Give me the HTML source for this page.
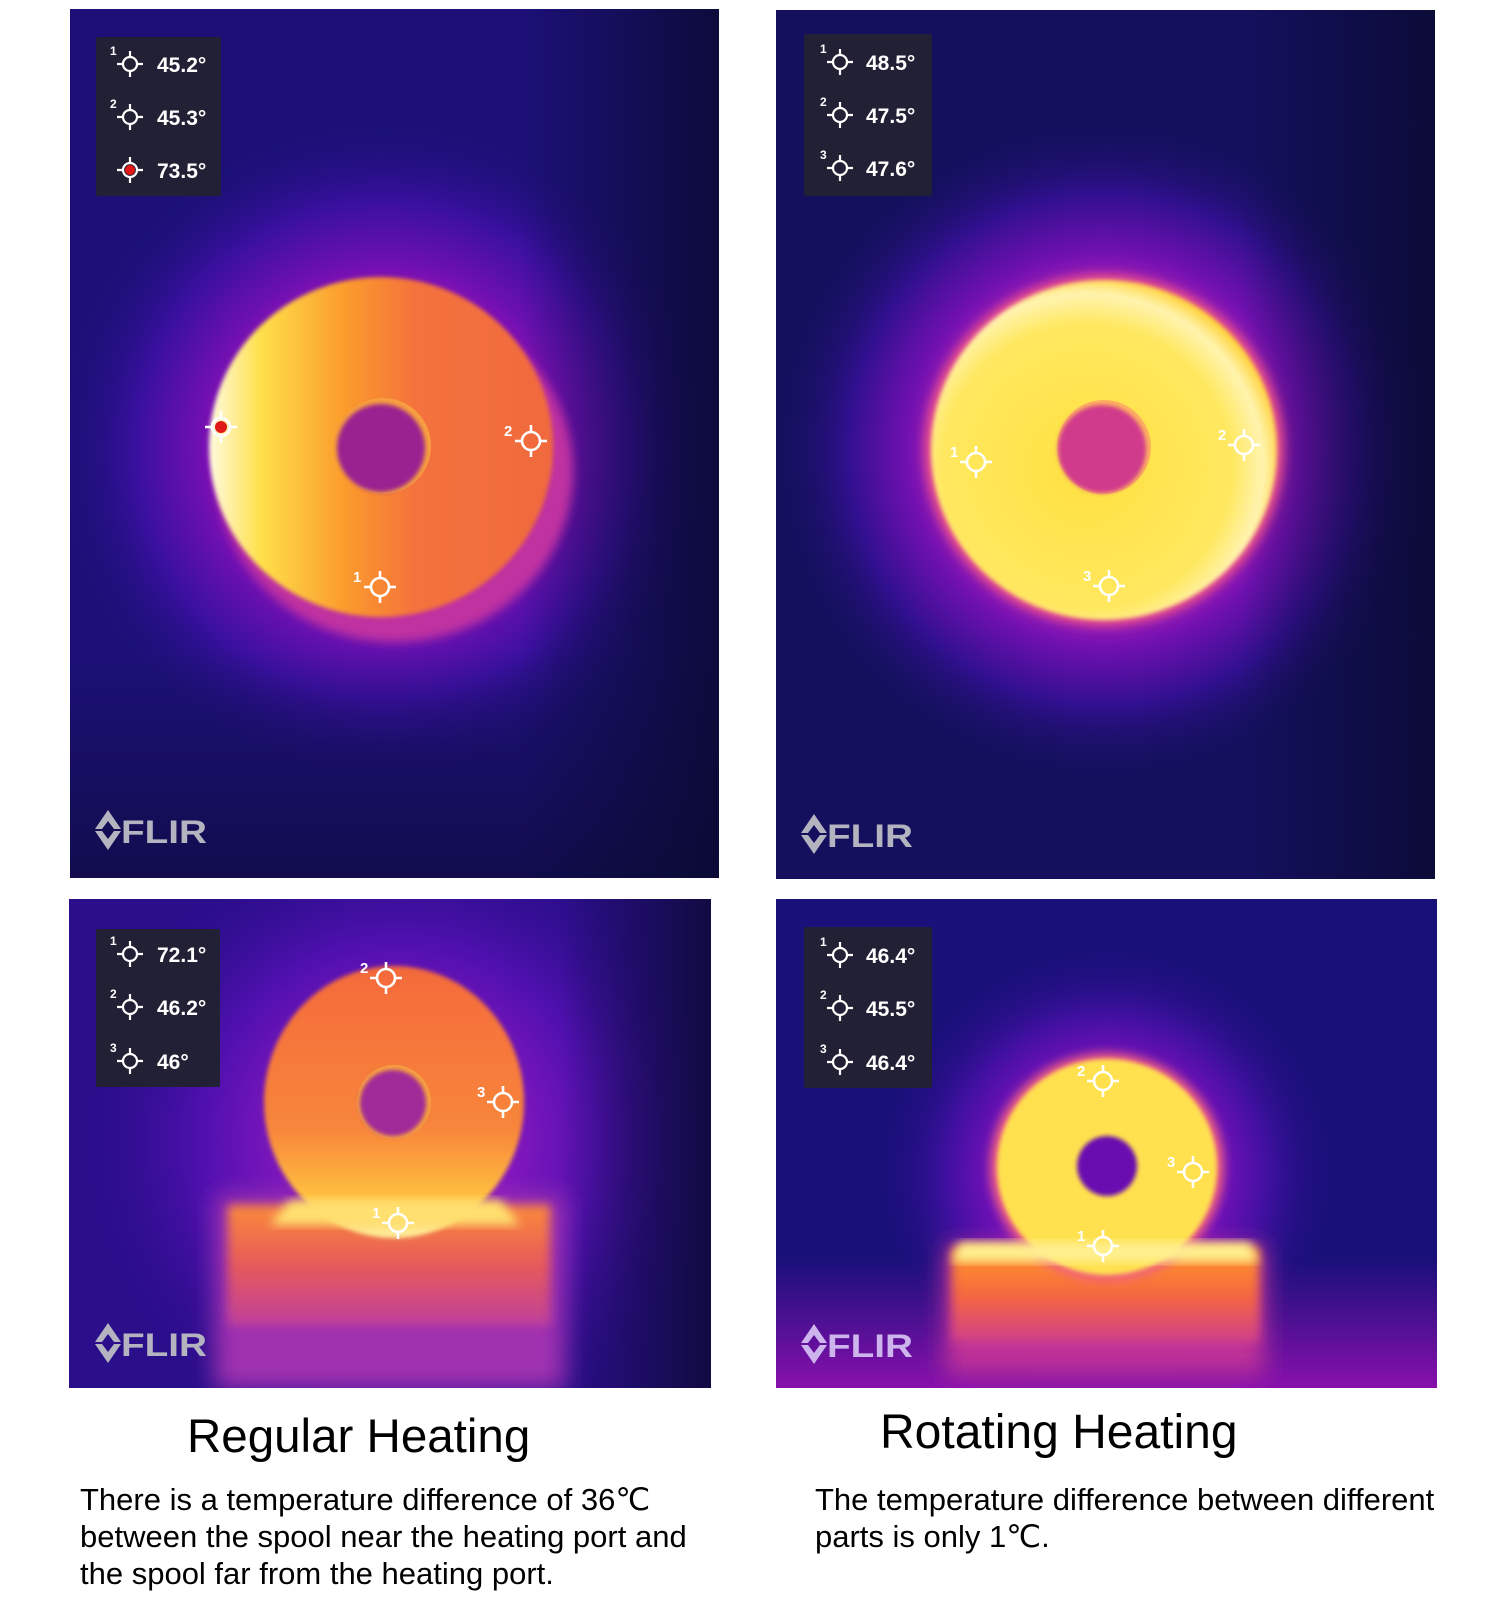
<!DOCTYPE html>
<html><head><meta charset="utf-8"><style>
html,body{margin:0;padding:0;background:#fff;}
body{width:1500px;height:1609px;position:relative;overflow:hidden;font-family:"Liberation Sans",sans-serif;}
.t{position:absolute;color:#000;white-space:nowrap;}
</style></head><body>
<svg width="1500" height="1609" style="position:absolute;left:0;top:0">
<defs>
<filter id="b6" x="-20%" y="-20%" width="140%" height="140%"><feGaussianBlur stdDeviation="5"/></filter>
<filter id="b12" x="-30%" y="-30%" width="160%" height="160%"><feGaussianBlur stdDeviation="12"/></filter>
<filter id="b2"><feGaussianBlur stdDeviation="2"/></filter>
<radialGradient id="bgTL" gradientUnits="userSpaceOnUse" cx="384" cy="450" r="330">
<stop offset="0.45" stop-color="#9a10b8"/><stop offset="0.58" stop-color="#6a10b0"/><stop offset="0.75" stop-color="#3a10a0"/><stop offset="1" stop-color="#1c1078" stop-opacity="0"/></radialGradient>
<radialGradient id="bgTR" gradientUnits="userSpaceOnUse" cx="1104" cy="450" r="330">
<stop offset="0.48" stop-color="#b020b8"/><stop offset="0.6" stop-color="#7010b0"/><stop offset="0.78" stop-color="#30108e"/><stop offset="1" stop-color="#14105e" stop-opacity="0"/></radialGradient>
<radialGradient id="bgBL" gradientUnits="userSpaceOnUse" cx="400" cy="1140" r="330">
<stop offset="0.3" stop-color="#8a18c0"/><stop offset="0.6" stop-color="#5010b0"/><stop offset="1" stop-color="#2a0e8a" stop-opacity="0"/></radialGradient>
<radialGradient id="bgBR" gradientUnits="userSpaceOnUse" cx="1107" cy="1175" r="230">
<stop offset="0.45" stop-color="#8010c0"/><stop offset="0.7" stop-color="#4010a0"/><stop offset="1" stop-color="#1a107a" stop-opacity="0"/></radialGradient>
<linearGradient id="darkR" x1="0" x2="1"><stop offset="0" stop-color="#0a0a30" stop-opacity="0"/><stop offset="1" stop-color="#0a0a30" stop-opacity="0.85"/></linearGradient>
<linearGradient id="darkB" x1="0" x2="0" y1="0" y2="1"><stop offset="0" stop-color="#0a0a30" stop-opacity="0"/><stop offset="1" stop-color="#0a0a30" stop-opacity="0.6"/></linearGradient>
<linearGradient id="purB" x1="0" x2="0" y1="0" y2="1"><stop offset="0" stop-color="#8a10b0" stop-opacity="0"/><stop offset="1" stop-color="#9010b0" stop-opacity="0.95"/></linearGradient>
<linearGradient id="gTL" x1="0" x2="1" y1="0" y2="0">
<stop offset="0" stop-color="#fffbe0"/><stop offset="0.15" stop-color="#ffe04a"/><stop offset="0.4" stop-color="#fb9a2c"/><stop offset="0.6" stop-color="#f4723c"/><stop offset="1" stop-color="#f06a3c"/></linearGradient>
<radialGradient id="gTR" cx="0.45" cy="0.55" r="0.6">
<stop offset="0" stop-color="#ffe040"/><stop offset="0.7" stop-color="#ffe860"/><stop offset="0.85" stop-color="#fff4b0"/><stop offset="0.95" stop-color="#ffd030"/><stop offset="1" stop-color="#ff8a20"/></radialGradient>
<linearGradient id="gBL" x1="0" x2="0" y1="0" y2="1">
<stop offset="0" stop-color="#f46a3a"/><stop offset="0.6" stop-color="#f8863a"/><stop offset="0.85" stop-color="#ffc040"/><stop offset="1" stop-color="#fff0a0"/></linearGradient>
<linearGradient id="gBase" x1="0" x2="0" y1="0" y2="1">
<stop offset="0" stop-color="#fb8a3a"/><stop offset="0.5" stop-color="#e65a5a"/><stop offset="1" stop-color="#c0409a"/></linearGradient>
<linearGradient id="gBase2" x1="0" x2="0" y1="0" y2="1">
<stop offset="0" stop-color="#ff9a2a"/><stop offset="0.5" stop-color="#f6683e"/><stop offset="1" stop-color="#d0408a"/></linearGradient>
<clipPath id="c1"><rect x="70" y="9" width="649" height="869"/></clipPath>
<clipPath id="c2"><rect x="776" y="10" width="659" height="869"/></clipPath>
<clipPath id="c3"><rect x="69" y="899" width="642" height="489"/></clipPath>
<clipPath id="c4"><rect x="776" y="899" width="661" height="489"/></clipPath>
<g id="ch"><circle cx="0" cy="0" r="9" fill="none" stroke="#fff" stroke-width="2.6"/><path d="M-16 0H-9M9 0H16M0 -16V-9M0 9V16" stroke="#fff" stroke-width="2.6"/></g>
<g id="chs"><circle cx="0" cy="0" r="7" fill="none" stroke="#fff" stroke-width="2.2"/><path d="M-13 0H-7M7 0H13M0 -13V-7M0 7V13" stroke="#fff" stroke-width="2.2"/></g>
<g id="logo"><path d="M0 19 L13 0 L26 19 L19 19 L13 11 L7 19Z M0 21 L13 40 L26 21 L19 21 L13 29 L7 21Z"/><text x="26" y="33" font-size="32" font-weight="bold" textLength="86" lengthAdjust="spacingAndGlyphs">FLIR</text></g>
</defs>

<g clip-path="url(#c1)">
<rect x="70" y="9" width="649" height="869" fill="#1c1078"/>
<rect x="70" y="9" width="649" height="869" fill="url(#bgTL)"/>
<rect x="520" y="9" width="200" height="869" fill="url(#darkR)"/>
<rect x="70" y="650" width="649" height="230" fill="url(#darkB)"/>
<ellipse cx="395" cy="472" rx="178" ry="170" fill="#c030a0" filter="url(#b6)"/>
<ellipse cx="381" cy="447" rx="172" ry="170" fill="url(#gTL)" filter="url(#b2)"/>
<circle cx="383" cy="446" r="48" fill="#f8a040"/>
<circle cx="381" cy="448" r="44" fill="#9a2090" filter="url(#b2)"/>
</g>
<g clip-path="url(#c2)">
<rect x="776" y="10" width="659" height="869" fill="#14105e"/>
<rect x="776" y="10" width="659" height="869" fill="url(#bgTR)"/>
<rect x="1240" y="10" width="200" height="869" fill="url(#darkR)"/>
<ellipse cx="1104" cy="450" rx="180" ry="176" fill="#e8508a" filter="url(#b6)"/>
<ellipse cx="1104" cy="450" rx="173" ry="170" fill="url(#gTR)" filter="url(#b2)"/>
<circle cx="1104" cy="447" r="47" fill="#ffb060"/>
<circle cx="1102" cy="449" r="44" fill="#d03a8c" filter="url(#b2)"/>
</g>
<g clip-path="url(#c3)">
<rect x="69" y="899" width="642" height="489" fill="#2a0e8a"/>
<rect x="69" y="899" width="642" height="489" fill="url(#bgBL)"/>
<rect x="560" y="899" width="160" height="489" fill="url(#darkR)"/>
<rect x="215" y="1195" width="350" height="195" fill="#a030b0" filter="url(#b12)"/>
<rect x="228" y="1205" width="322" height="120" fill="url(#gBase)" filter="url(#b6)"/>
<ellipse cx="394" cy="1102" rx="130" ry="136" fill="url(#gBL)" filter="url(#b2)"/>
<path d="M290 1200 L500 1200 L520 1225 L270 1225Z" fill="#ffe070" filter="url(#b6)"/>
<circle cx="394" cy="1102" r="37" fill="#f8a040"/>
<circle cx="393" cy="1103" r="33" fill="#a02a98" filter="url(#b2)"/>
</g>
<g clip-path="url(#c4)">
<rect x="776" y="899" width="661" height="489" fill="#1a107a"/>
<rect x="776" y="899" width="661" height="489" fill="url(#bgBR)"/>
<rect x="776" y="1260" width="661" height="130" fill="url(#purB)"/>
<rect x="945" y="1245" width="320" height="130" fill="#c03098" filter="url(#b12)"/>
<rect x="952" y="1247" width="307" height="95" fill="url(#gBase2)" filter="url(#b6)"/>
<ellipse cx="1107" cy="1167" rx="117" ry="114" fill="#f06080" filter="url(#b6)"/>
<ellipse cx="1107" cy="1167" rx="110" ry="108" fill="#ffe050" filter="url(#b2)"/>
<path d="M960 1242 L1250 1242 L1258 1262 L952 1262Z" fill="#fff090" filter="url(#b6)"/>
<circle cx="1107" cy="1166" r="30" fill="#6a10b0" filter="url(#b2)"/>
</g>

<g font-family="Liberation Sans,sans-serif" font-weight="bold" fill="#fff">
<rect x="96" y="37" width="125" height="159" fill="#222034" rx="2"/>
<use href="#chs" x="130" y="64"/><use href="#chs" x="130" y="117"/><use href="#chs" x="130" y="170"/>
<circle cx="130" cy="170" r="5" fill="#e01818"/>
<text x="110" y="55" font-size="12">1</text><text x="110" y="108" font-size="12">2</text>
<text x="157" y="72" font-size="21">45.2°</text><text x="157" y="125" font-size="21">45.3°</text><text x="157" y="178" font-size="21">73.5°</text>

<rect x="804" y="34" width="128" height="162" fill="#222034" rx="2"/>
<use href="#chs" x="840" y="62"/><use href="#chs" x="840" y="115"/><use href="#chs" x="840" y="168"/>
<text x="820" y="53" font-size="12">1</text><text x="820" y="106" font-size="12">2</text><text x="820" y="159" font-size="12">3</text>
<text x="866" y="70" font-size="21">48.5°</text><text x="866" y="123" font-size="21">47.5°</text><text x="866" y="176" font-size="21">47.6°</text>

<rect x="96" y="929" width="124" height="158" fill="#222034" rx="2"/>
<use href="#chs" x="130" y="954"/><use href="#chs" x="130" y="1007"/><use href="#chs" x="130" y="1061"/>
<text x="110" y="945" font-size="12">1</text><text x="110" y="998" font-size="12">2</text><text x="110" y="1052" font-size="12">3</text>
<text x="157" y="962" font-size="21">72.1°</text><text x="157" y="1015" font-size="21">46.2°</text><text x="157" y="1069" font-size="21">46°</text>

<rect x="804" y="927" width="128" height="161" fill="#222034" rx="2"/>
<use href="#chs" x="840" y="955"/><use href="#chs" x="840" y="1008"/><use href="#chs" x="840" y="1062"/>
<text x="820" y="946" font-size="12">1</text><text x="820" y="999" font-size="12">2</text><text x="820" y="1053" font-size="12">3</text>
<text x="866" y="963" font-size="21">46.4°</text><text x="866" y="1016" font-size="21">45.5°</text><text x="866" y="1070" font-size="21">46.4°</text>

<use href="#ch" x="221" y="427"/><circle cx="221" cy="427" r="6" fill="#e01818"/>
<use href="#ch" x="531" y="441"/><text x="504" y="436" font-size="15">2</text>
<use href="#ch" x="380" y="587"/><text x="353" y="582" font-size="15">1</text>
<use href="#ch" x="976" y="462"/><text x="950" y="457" font-size="15">1</text>
<use href="#ch" x="1244" y="445"/><text x="1218" y="440" font-size="15">2</text>
<use href="#ch" x="1109" y="586"/><text x="1083" y="581" font-size="15">3</text>
<use href="#ch" x="386" y="978"/><text x="360" y="973" font-size="15">2</text>
<use href="#ch" x="503" y="1102"/><text x="477" y="1097" font-size="15">3</text>
<use href="#ch" x="398" y="1223"/><text x="372" y="1218" font-size="15">1</text>
<use href="#ch" x="1103" y="1081"/><text x="1077" y="1076" font-size="15">2</text>
<use href="#ch" x="1193" y="1172"/><text x="1167" y="1167" font-size="15">3</text>
<use href="#ch" x="1103" y="1246"/><text x="1077" y="1241" font-size="15">1</text>
</g>
<g font-family="Liberation Sans,sans-serif" fill="#b4b4c0">
<use href="#logo" x="95" y="810"/>
<use href="#logo" x="801" y="814"/>
<use href="#logo" x="95" y="1323"/>
<use href="#logo" x="801" y="1324" fill="#cdb4ec"/>
</g>
</svg>
<div class="t" style="left:187px;top:1409px;font-size:47.5px;line-height:56px;">Regular Heating</div>
<div class="t" style="left:80px;top:1481px;font-size:31px;line-height:37px;">There is a temperature difference of 36℃<br>between the spool near the heating port and<br>the spool far from the heating port.</div>
<div class="t" style="left:880px;top:1405px;font-size:48px;line-height:56px;">Rotating Heating</div>
<div class="t" style="left:815px;top:1481px;font-size:31px;line-height:37px;">The temperature difference between different<br>parts is only 1℃.</div>
</body></html>
